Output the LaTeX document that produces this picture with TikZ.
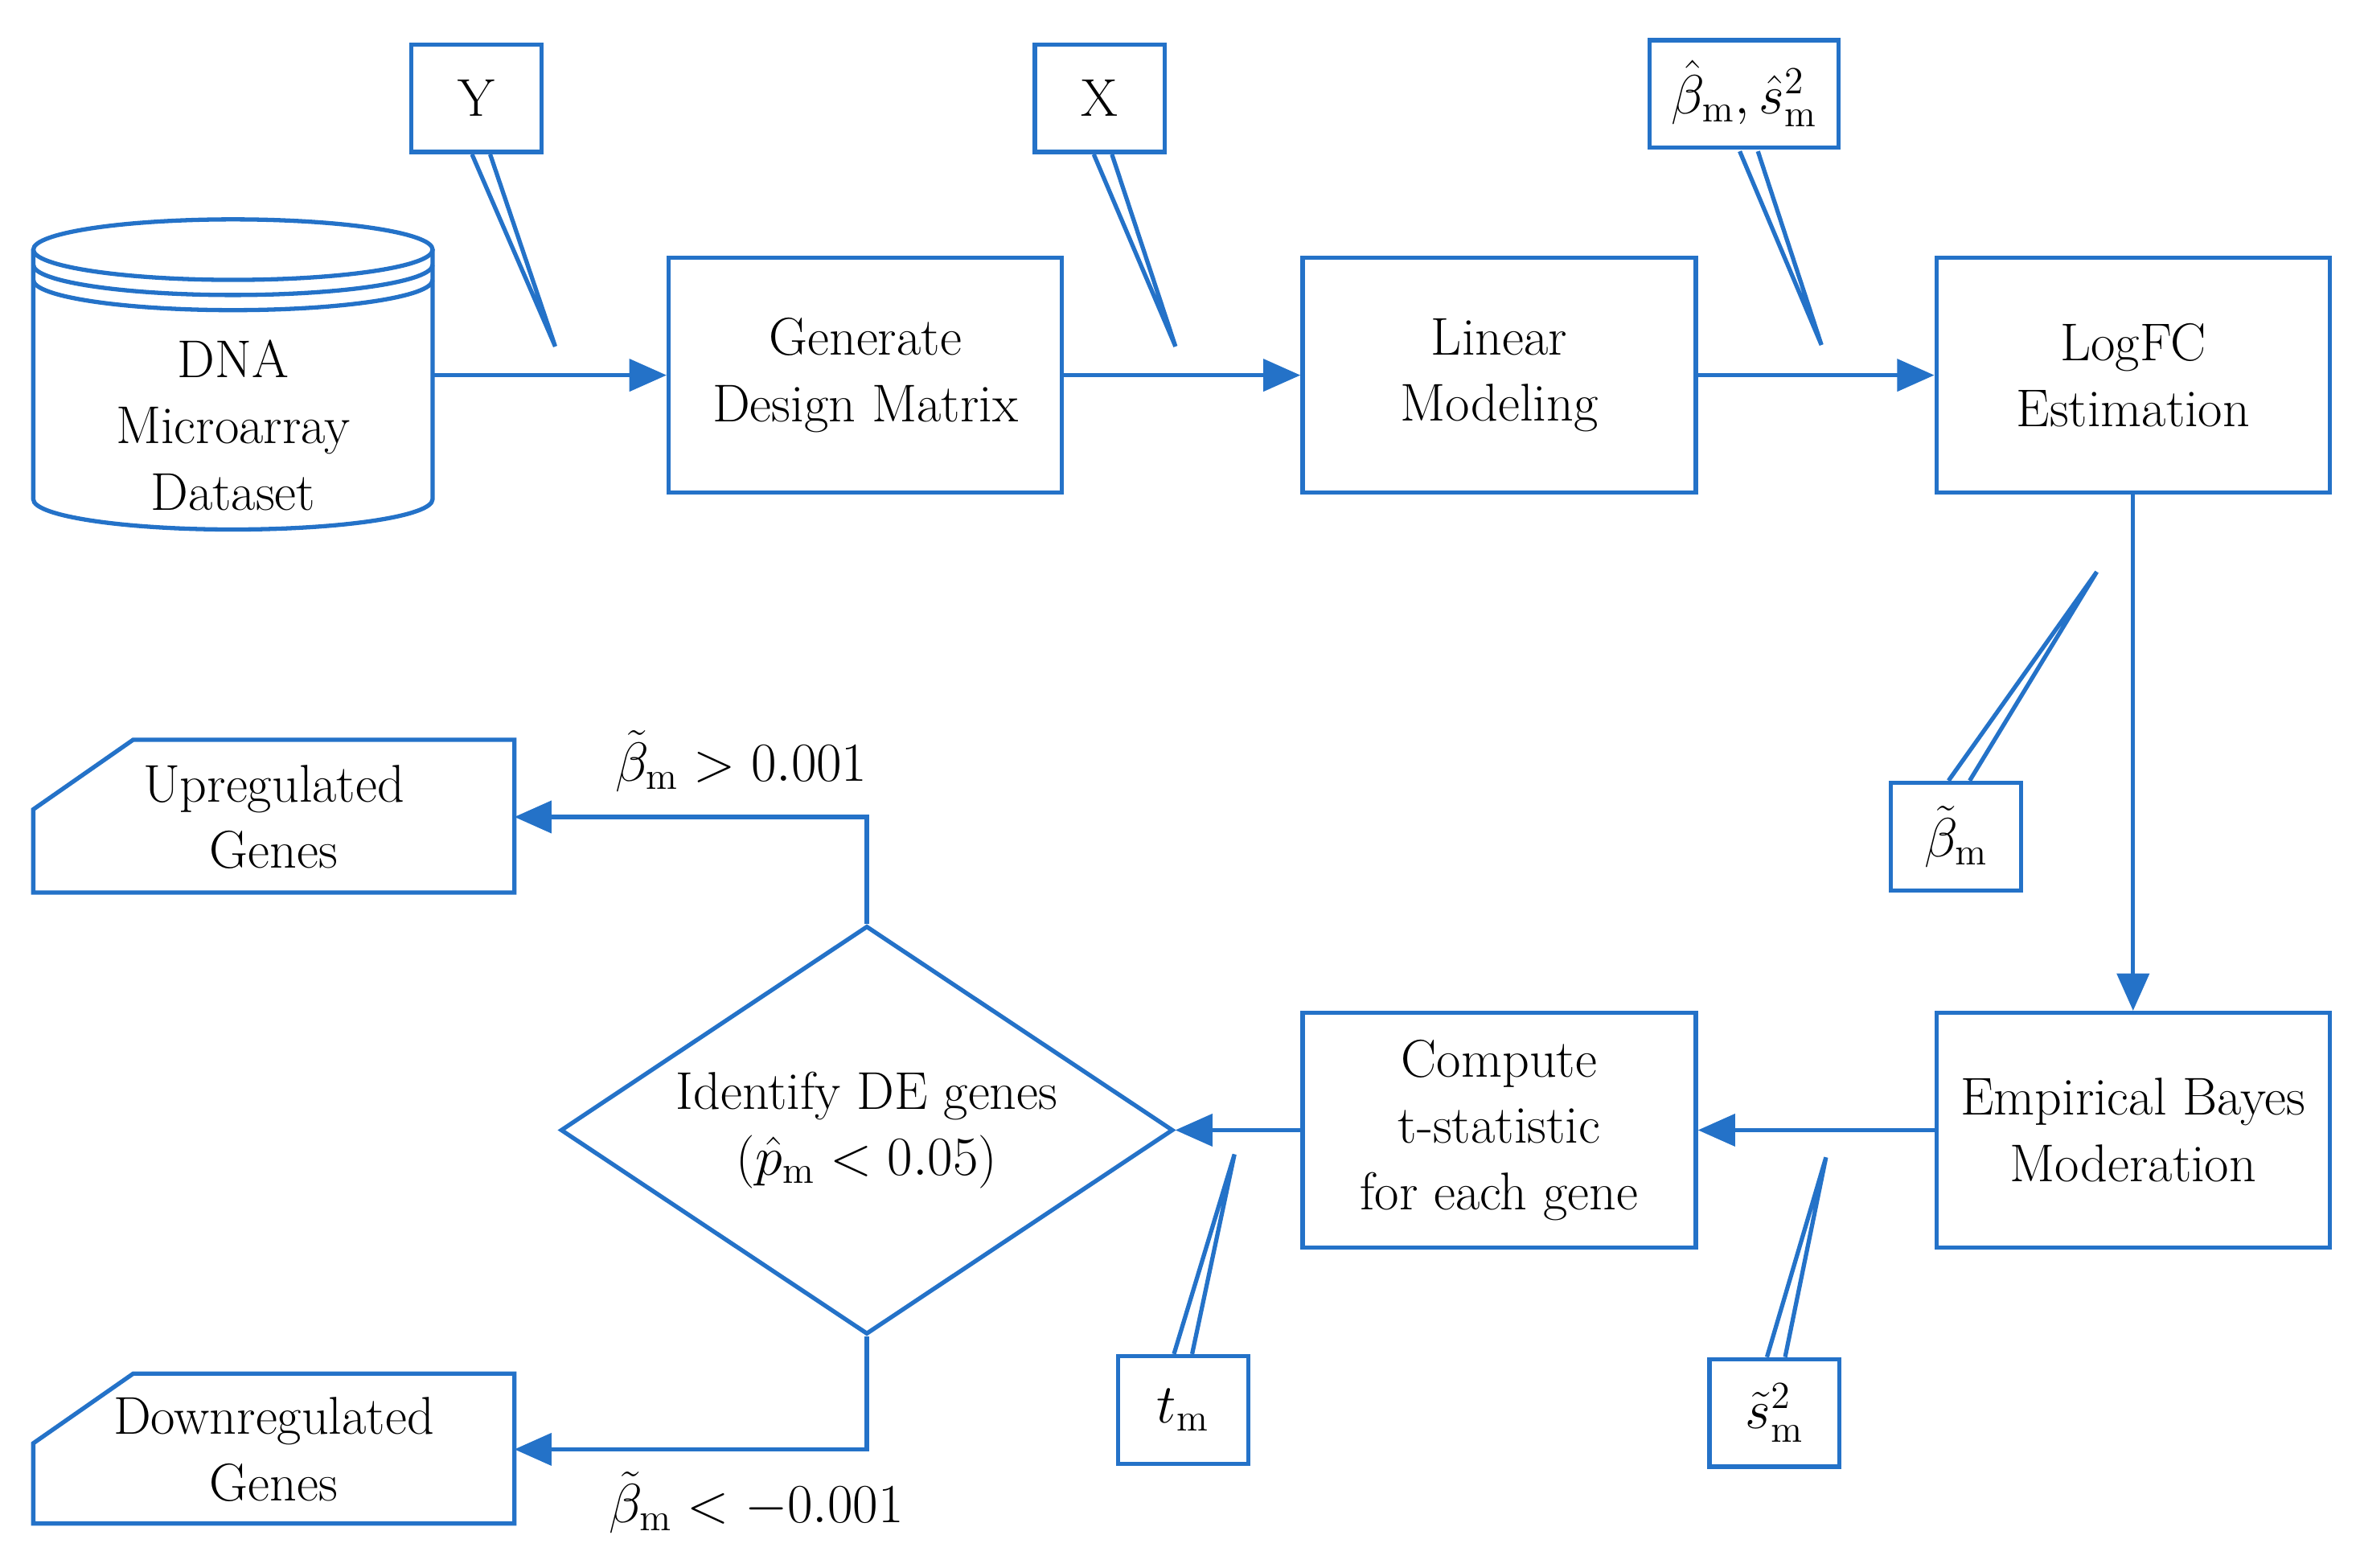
\documentclass[tikz,border=0pt]{standalone}
\usetikzlibrary{shapes.geometric,arrows.meta}
\definecolor{bl}{HTML}{2472C8}
\begin{document}
\begin{tikzpicture}[x=0.02cm,y=-0.02cm,line width=1.6pt,
  every node/.style={font=\fontsize{20}{25}\selectfont,align=center},
  box/.style={draw=bl,minimum width=5.2cm,minimum height=3.1cm,inner sep=0pt},
  cb/.style={draw=bl,minimum width=1.72cm,minimum height=1.42cm,inner sep=0pt,fill=white},
  ar/.style={draw=bl,-{Triangle[length=14pt,width=12pt]}},
  ln/.style={draw=bl}]
\useasboundingbox (0,0) rectangle (1560,1036);
% cylinder
\draw[bl] (22,165) -- (22,330) arc[start angle=180,end angle=360,x radius=2.64cm,y radius=0.4cm] -- (286,165);
\draw[bl] (154,165) ellipse[x radius=2.64cm,y radius=0.4cm];
\draw[bl] (22,165)++(0,10) arc[start angle=180,end angle=360,x radius=2.64cm,y radius=0.4cm];
\draw[bl] (22,165)++(0,20) arc[start angle=180,end angle=360,x radius=2.64cm,y radius=0.4cm];
\node (db) at (154,281) {DNA\\Microarray\\Dataset};
\coordinate (dbr) at (286,248);
\node[box] (gen) at (572,248) {Generate\\Design Matrix};
\node[box] (lin) at (991,248) {Linear\\Modeling};
\node[box] (log) at (1410,248) {LogFC\\Estimation};
\node[box] (emp) at (1410,747) {Empirical Bayes\\Moderation};
\node[box] (com) at (991,747) {Compute\\t-statistic\\for each gene};
\node[diamond,draw=bl,minimum width=8.1cm,minimum height=5.4cm,aspect=1.5,inner sep=-4pt] (dia) at (573,747) {Identify DE genes\\($\hat{p}_{\mathrm{m}}<0.05$)};
\draw[bl] (22,535) -- (88,489) -- (340,489) -- (340,590) -- (22,590) -- cycle;
\node (up) at (181,540) {Upregulated\\Genes};
\coordinate (upr) at (340,540);
\draw[bl] (22,954) -- (88,908) -- (340,908) -- (340,1007) -- (22,1007) -- cycle;
\node (dn) at (181,958) {Downregulated\\Genes};
\coordinate (dnr) at (340,958);
\draw[ar] (dbr) -- (gen);
\draw[ar] (gen) -- (lin);
\draw[ar] (lin) -- (log);
\draw[ar] (log) -- (emp);
\draw[ar] (emp) -- (com);
\draw[ar] (com) -- (dia);
\draw[ar] (dia.north) |- (upr);
\draw[ar] (dia.south) |- (dnr);
\node at (490,503) {$\tilde{\beta}_{\mathrm{m}}>0.001$};
\node at (500,993) {$\tilde{\beta}_{\mathrm{m}}<-0.001$};
% callouts
\node[cb] (cy) at (315,65) {Y};
\draw[ln] (312,102) -- (367,229) -- (324,102);
\node[cb] (cx) at (727,65) {X};
\draw[ln] (723,102) -- (777,229) -- (735,102);
\node[cb,minimum width=2.5cm] (cbh) at (1153,62) {$\hat{\beta}_{\mathrm{m}},\hat{s}^2_{\mathrm{m}}$};
\draw[ln] (1150,100) -- (1204,228) -- (1162,100);
\node[cb] (cbt) at (1293,553) {$\tilde{\beta}_{\mathrm{m}}$};
\draw[ln] (1288,516) -- (1386,378) -- (1302,516);
\node[cb] (ctm) at (782,932) {$t_{\mathrm{m}}$};
\draw[ln] (776,895) -- (816,763) -- (788,895);
\node[cb] (cst) at (1173,934) {$\tilde{s}^2_{\mathrm{m}}$};
\draw[ln] (1168,897) -- (1207,765) -- (1180,897);
\end{tikzpicture}
\end{document}
